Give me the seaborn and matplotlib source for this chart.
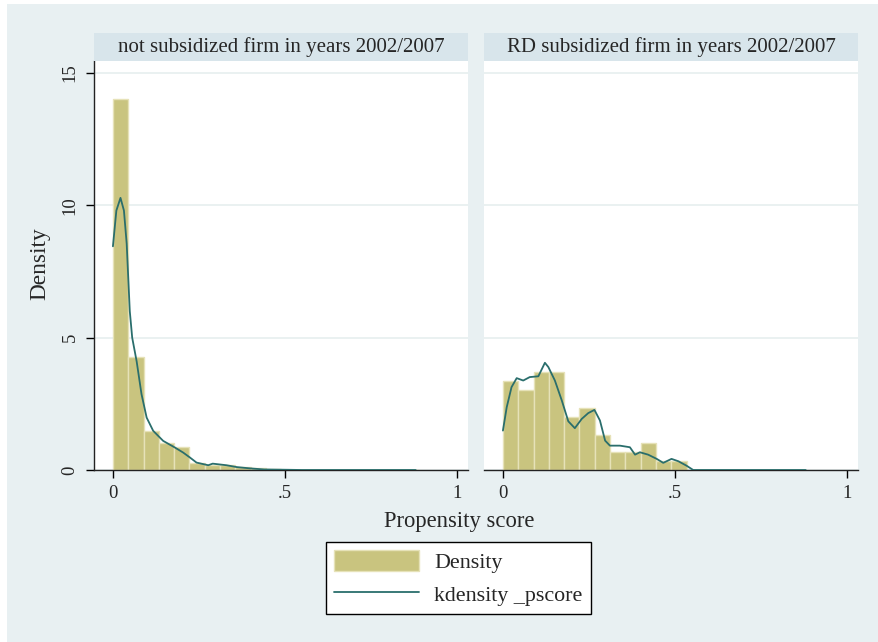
import numpy as np
import pandas as pd
import matplotlib
matplotlib.use('Agg')
import matplotlib.pyplot as plt
import seaborn as sns
from matplotlib.patches import Rectangle, Patch
from matplotlib.lines import Line2D

# panel titles
panels = ['not subsidized firm in years 2002/2007', 'RD subsidized firm in years 2002/2007']

# histogram (density per bin), bins of width ~0.0445 starting at 0
bin_width = 0.0445
hist_not = [14.0, 4.25, 1.48, 1.03, 0.87, 0.25, 0.19, 0.18, 0.11, 0.09,
            0.03, 0.01, 0.01, 0.0, 0.0, 0.0, 0.0, 0.0, 0.0, 0.01]
hist_rd = [3.38, 3.03, 3.70, 3.70, 2.02, 2.35, 1.34, 0.67, 0.67, 1.01, 0.33, 0.33]

# kernel density curves
kde_not_x = [0.0, 0.01, 0.022, 0.032, 0.04, 0.049, 0.056, 0.069, 0.083, 0.098, 0.117,
             0.146, 0.18, 0.204, 0.224, 0.243, 0.277, 0.29, 0.33, 0.36, 0.40,
             0.44, 0.50, 0.55, 0.88]
kde_not_y = [8.45, 9.8, 10.28, 9.8, 8.55, 6.0, 5.0, 4.1, 2.87, 1.98, 1.48,
             1.1, 0.85, 0.66, 0.47, 0.28, 0.18, 0.24, 0.18, 0.11, 0.06,
             0.02, 0.01, 0.0, 0.0]
kde_rd_x = [0.0, 0.011, 0.025, 0.04, 0.059, 0.078, 0.103, 0.122, 0.132, 0.151,
            0.171, 0.19, 0.209, 0.229, 0.248, 0.266, 0.282, 0.297, 0.311, 0.34,
            0.369, 0.384, 0.398, 0.422, 0.447, 0.466, 0.49, 0.51, 0.534, 0.553, 0.88]
kde_rd_y = [1.49, 2.37, 3.13, 3.47, 3.38, 3.51, 3.54, 4.05, 3.89, 3.38,
            2.63, 1.84, 1.58, 1.93, 2.15, 2.27, 1.87, 1.11, 0.92, 0.92,
            0.86, 0.58, 0.67, 0.58, 0.42, 0.27, 0.42, 0.33, 0.16, 0.0, 0.0]

W, H = 879, 642
bg = '#E8F0F2'
strip_col = '#D8E5EB'
bar_col = '#C9C47F'
bar_edge = '#E6E2B8'
line_col = '#2A6E6C'

sns.set_style('white')
plt.rcParams['font.family'] = ['Liberation Serif', 'DejaVu Serif']

fig = plt.figure(figsize=(W / 100, H / 100), dpi=100, facecolor='white')
fig.patches.append(Rectangle((7 / W, 0), 1 - 7 / W, 1 - 4 / H, transform=fig.transFigure,
                             facecolor=bg, edgecolor='none', zorder=-10))


def box(x0, y0, x1, y1):
    return [x0 / W, 1 - y1 / H, (x1 - x0) / W, (y1 - y0) / H]


data = [(hist_not, kde_not_x, kde_not_y), (hist_rd, kde_rd_x, kde_rd_y)]
lefts = [94, 484]
for i, (hist, kx, ky) in enumerate(data):
    x0 = lefts[i]
    ax = fig.add_axes(box(x0, 61, x0 + 374, 470))
    edges = [k * bin_width for k in range(len(hist) + 1)]
    df = pd.DataFrame({'x': [e + bin_width / 2 for e in edges[:-1]], 'w': hist})
    sns.histplot(data=df, x='x', weights='w', bins=edges, stat='count', ax=ax,
                 color=bar_col, edgecolor=bar_edge, linewidth=1, alpha=1, zorder=2)
    sns.lineplot(x=kx, y=ky, ax=ax, color=line_col, linewidth=1.3, zorder=3)
    ax.set_xlim(-0.055, 1.032)
    ax.set_ylim(0, 15.45)
    ax.set_facecolor('white')
    ax.set_yticks([0, 5, 10, 15])
    ax.grid(axis='y', color='#E6EFEF', linewidth=1.2, zorder=0)
    ax.set_axisbelow(True)
    ax.set_xticks([0, 0.5, 1])
    ax.set_xticklabels(['0', '.5', '1'])
    ax.set_xlabel('')
    ax.set_ylabel('')
    ax.tick_params(axis='x', direction='out', length=6, width=1, color='black',
                   labelsize=13.5, pad=5, bottom=True)
    for s in ['top', 'right']:
        ax.spines[s].set_visible(False)
    ax.spines['bottom'].set_color('#222222')
    ax.spines['bottom'].set_linewidth(1)
    if i == 0:
        ax.spines['left'].set_color('#222222')
        ax.spines['left'].set_linewidth(1)
        ax.tick_params(axis='y', direction='out', length=6, width=1, color='black',
                       labelsize=13.5, pad=5, left=True)
        for lab in ax.get_yticklabels():
            lab.set_rotation(90)
            lab.set_va('center')
    else:
        ax.spines['left'].set_visible(False)
        ax.tick_params(axis='y', left=False, labelleft=False)

    sax = fig.add_axes(box(x0, 33, x0 + 374, 61))
    sax.set_facecolor(strip_col)
    sax.set_xticks([])
    sax.set_yticks([])
    for s in sax.spines.values():
        s.set_visible(False)
    sax.text(0.5, 0.5, panels[i], ha='center', va='center', fontsize=15,
             transform=sax.transAxes)

fig.text(459 / W, 1 - 521 / H, 'Propensity score', ha='center', va='center', fontsize=16.3)
fig.text(40 / W, 1 - 264 / H, 'Density', ha='center', va='center', fontsize=16.8, rotation=90)

handles = [Patch(facecolor=bar_col, edgecolor=bar_edge, label='Density'),
           Line2D([0], [0], color=line_col, linewidth=1.3, label='kdensity _pscore')]
leg = fig.legend(handles=handles, loc='center', bbox_to_anchor=(458.5 / W, 1 - 578 / H),
                 fontsize=15.8, frameon=True, fancybox=False, handlelength=3.85,
                 handleheight=1.05, borderpad=0.4, labelspacing=0.45, handletextpad=0.7,
                 borderaxespad=0, framealpha=1, facecolor='white')
leg.get_frame().set_edgecolor('black')
leg.get_frame().set_linewidth(1)

fig.savefig('out.png', dpi=100, facecolor=fig.get_facecolor())
